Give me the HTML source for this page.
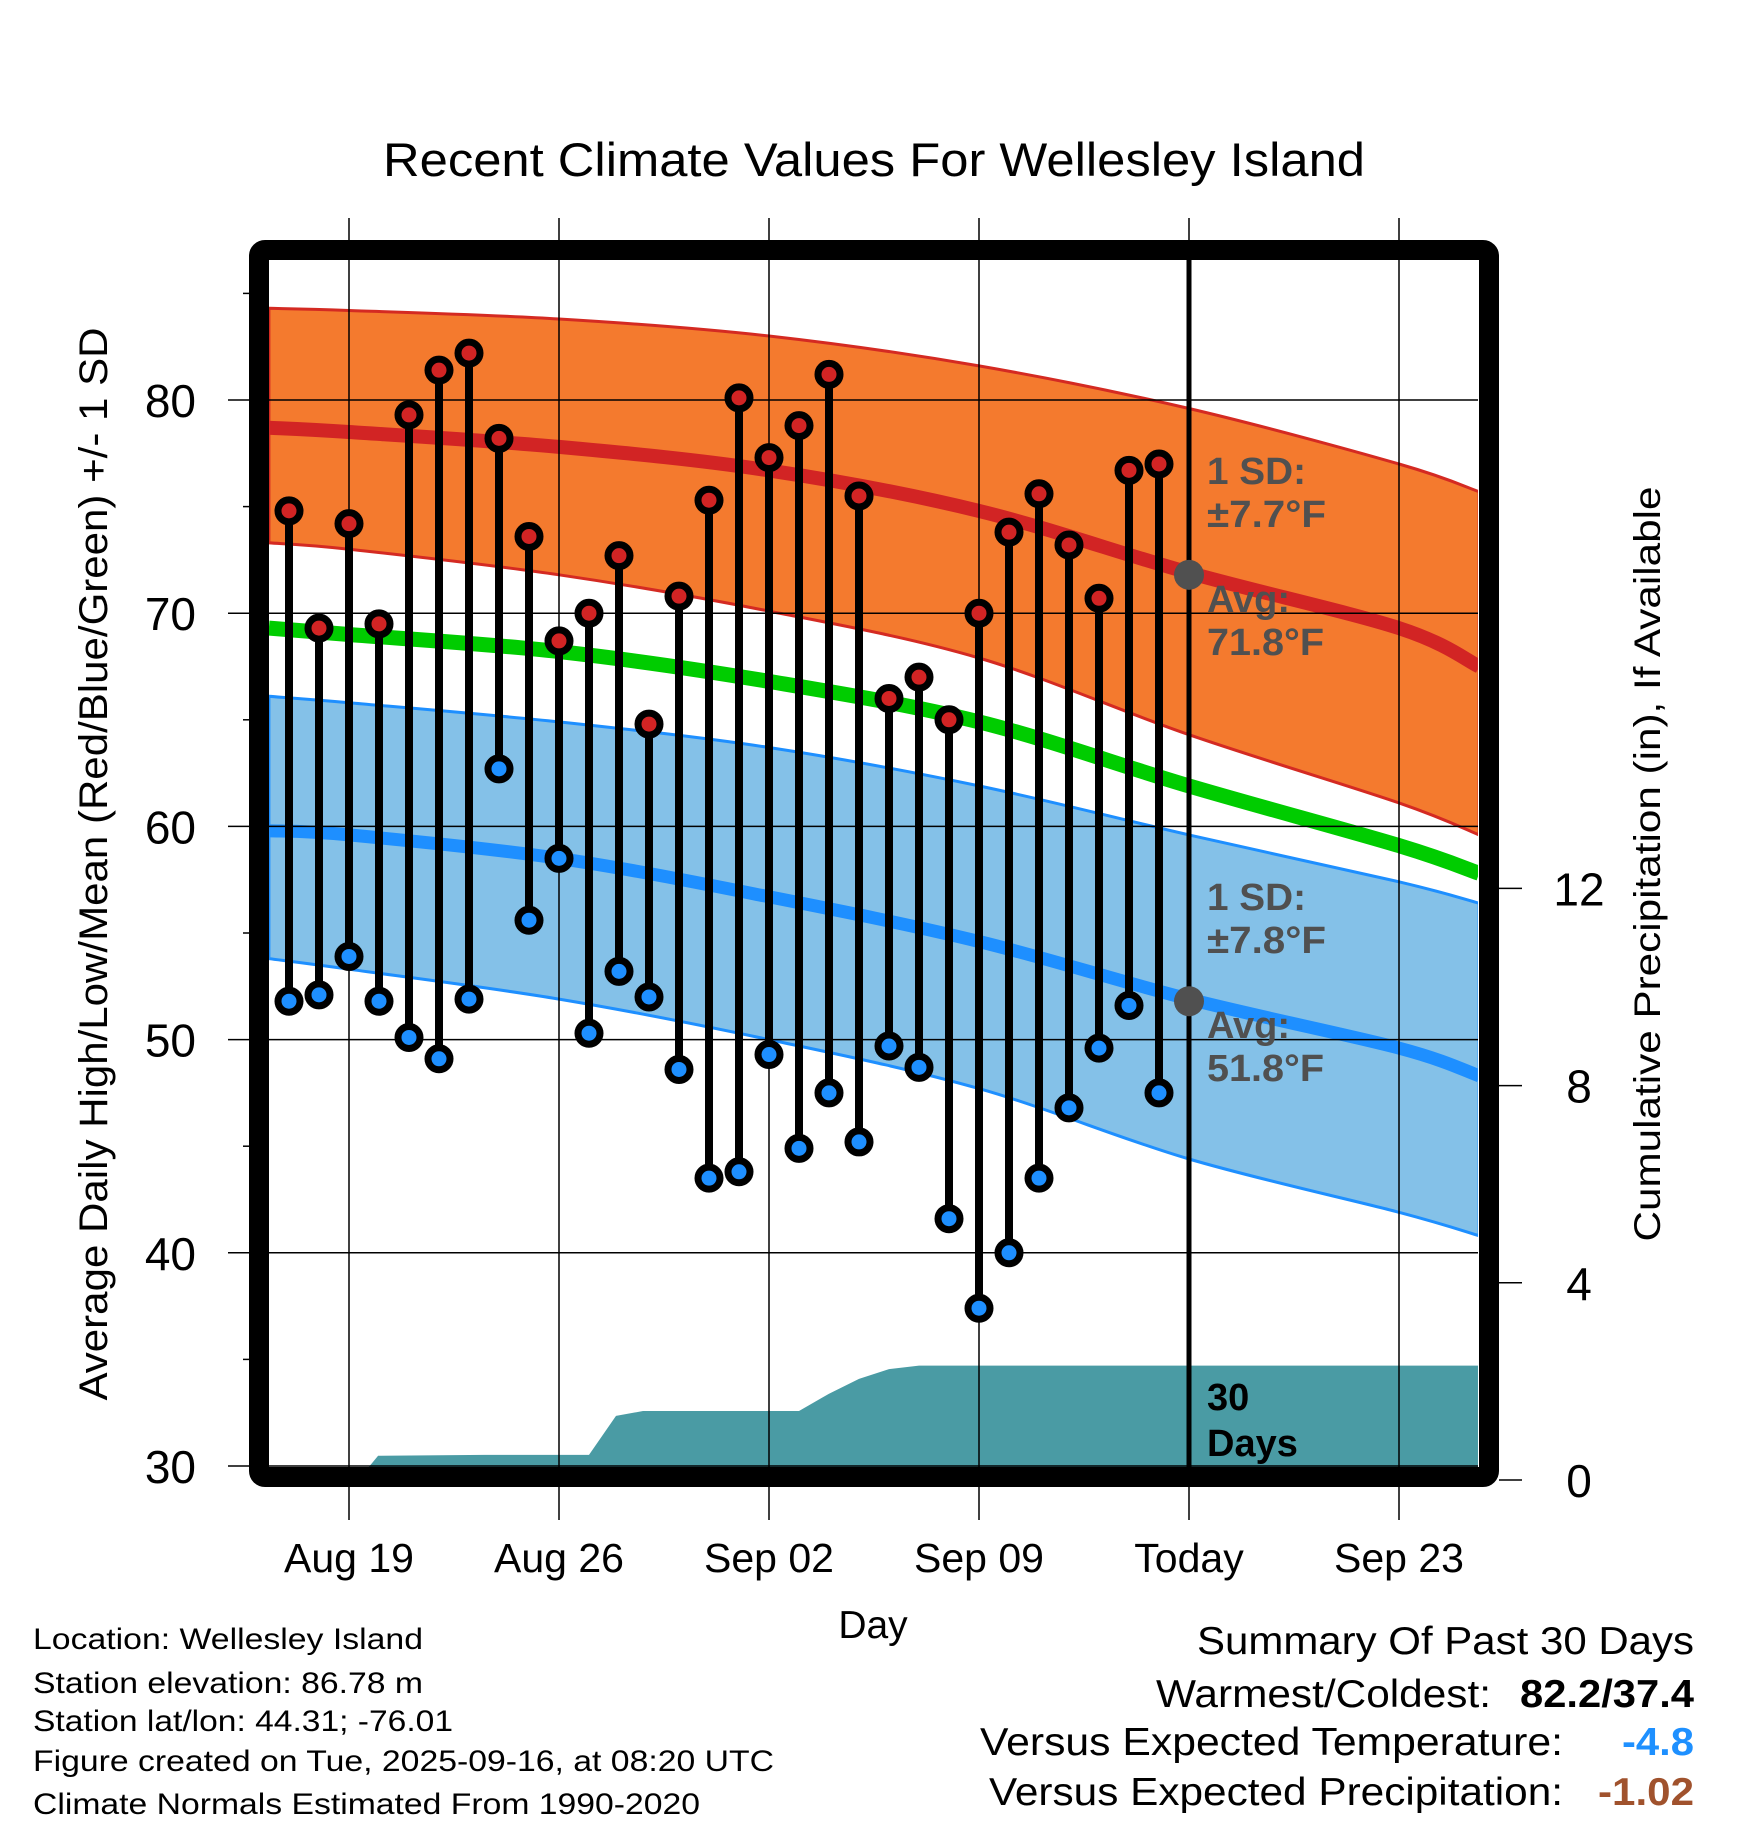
<!DOCTYPE html>
<html><head><meta charset="utf-8"><style>
html,body{margin:0;padding:0;background:#fff;}
svg{display:block;font-family:"Liberation Sans",Arial,sans-serif;}
</style></head><body>
<svg id="chart" width="1748" height="1828" viewBox="0 0 1748 1828" xmlns="http://www.w3.org/2000/svg">
<text x="874" y="176" font-size="47" text-anchor="middle" textLength="982" lengthAdjust="spacingAndGlyphs">Recent Climate Values For Wellesley Island</text>
<g id="plot"></g>
<text transform="translate(107,864) rotate(-90)" font-size="40" text-anchor="middle" textLength="1073" lengthAdjust="spacingAndGlyphs">Average Daily High/Low/Mean (Red/Blue/Green) +/- 1 SD</text>
<text transform="translate(1660,864) rotate(-90)" font-size="37" text-anchor="middle" textLength="755" lengthAdjust="spacingAndGlyphs">Cumulative Precipitation (in), If Available</text>
<text x="873" y="1638" font-size="39" text-anchor="middle">Day</text>
<g font-size="30">
<text x="33" y="1649" textLength="390" lengthAdjust="spacingAndGlyphs">Location: Wellesley Island</text>
<text x="33" y="1693" textLength="390" lengthAdjust="spacingAndGlyphs">Station elevation: 86.78 m</text>
<text x="33" y="1731" textLength="420" lengthAdjust="spacingAndGlyphs">Station lat/lon: 44.31; -76.01</text>
<text x="33" y="1771" textLength="741" lengthAdjust="spacingAndGlyphs">Figure created on Tue, 2025-09-16, at 08:20 UTC</text>
<text x="33" y="1814" textLength="667" lengthAdjust="spacingAndGlyphs">Climate Normals Estimated From 1990-2020</text>
</g>
<g font-size="39">
<text x="1197" y="1654" textLength="497" lengthAdjust="spacingAndGlyphs">Summary Of Past 30 Days</text>
<text x="1156" y="1707" textLength="335" lengthAdjust="spacingAndGlyphs">Warmest/Coldest:</text>
<text x="1520" y="1707" font-weight="bold" textLength="174" lengthAdjust="spacingAndGlyphs">82.2/37.4</text>
<text x="980" y="1755" textLength="583" lengthAdjust="spacingAndGlyphs">Versus Expected Temperature:</text>
<text x="1622" y="1755" font-weight="bold" fill="#1e90ff" textLength="72" lengthAdjust="spacingAndGlyphs">-4.8</text>
<text x="989" y="1805" textLength="574" lengthAdjust="spacingAndGlyphs">Versus Expected Precipitation:</text>
<text x="1598" y="1805" font-weight="bold" fill="#a0522d" textLength="96" lengthAdjust="spacingAndGlyphs">-1.02</text>
</g>
</svg>
<script>
// day offsets relative to Aug 19
const nodeDays = [-2.67, 0, 7, 14, 21, 28, 35, 37.67];
const normHighUpper = [84.3, 84.2, 83.8, 83.0, 81.6, 79.6, 77.0, 75.7];
const normHigh = [78.7, 78.5, 77.8, 76.7, 74.8, 71.9, 69.3, 67.5];
const normHighLower = [73.3, 73.0, 71.8, 70.1, 67.9, 64.3, 61.1, 59.6];
const normMean = [69.3, 69.0, 68.2, 66.8, 64.9, 61.9, 59.1, 57.8];
const normLowUpper = [66.1, 65.8, 64.9, 63.7, 61.9, 59.6, 57.4, 56.4];
const normLow = [59.8, 59.6, 58.5, 56.7, 54.6, 51.9, 49.6, 48.3];
const normLowLower = [53.8, 53.3, 51.9, 50.0, 47.7, 44.4, 41.9, 40.8];
// observed, Aug 17 .. Sep 15
const obsDays = [-2,-1,0,1,2,3,4,5,6,7,8,9,10,11,12,13,14,15,16,17,18,19,20,21,22,23,24,25,26,27];
const highs = [74.8,69.3,74.2,69.5,79.3,81.4,82.2,78.2,73.6,68.7,70.0,72.7,64.8,70.8,75.3,80.1,77.3,78.8,81.2,75.5,66.0,67.0,65.0,70.0,73.8,75.6,73.2,70.7,76.7,77.0];
const lows = [51.8,52.1,53.9,51.8,50.1,49.1,51.9,62.7,55.6,58.5,50.3,53.2,52.0,48.6,43.5,43.8,49.3,44.9,47.5,45.2,49.7,48.7,41.6,37.4,40.0,43.5,46.8,49.6,51.6,47.5];
const precipDays = [-2.67, 0.3, 0.97, 4.5, 7.5, 8.0, 8.9, 9.8, 14.0, 15.0, 16.0, 17.0, 18.0, 19.0, 37.67];
const precipCum = [0, 0, 0.49, 0.51, 0.51, 0.51, 1.30, 1.40, 1.40, 1.40, 1.75, 2.05, 2.25, 2.32, 2.32];
const yTicks = [30, 40, 50, 60, 70, 80];
const yMinor = [35, 45, 55, 65, 75, 85];
const pTicks = [0, 4, 8, 12];
const xTickDays = [0, 7, 14, 21, 28, 35];
const xTickLabels = ["Aug 19", "Aug 26", "Sep 02", "Sep 09", "Today", "Sep 23"];
const todayDay = 28;
const todayHigh = 71.8, todayLow = 51.8;

const X = d => 349 + 30 * d;
const Y = v => 1466 - (v - 30) * 21.32;
const P = p => 1480 - p * 49.3;
const NS = "http://www.w3.org/2000/svg";
const plot = document.getElementById('plot');
function mk(tag, attrs, parent) {
  const e = document.createElementNS(NS, tag);
  for (const k in attrs) e.setAttribute(k, attrs[k]);
  (parent || plot).appendChild(e);
  return e;
}
function pts(arr) { return nodeDays.map((d, i) => [X(d), Y(arr[i])]); }
function smooth(p, move) {
  let s = (move ? 'M' : 'L') + p[0][0].toFixed(1) + ',' + p[0][1].toFixed(1);
  for (let i = 0; i < p.length - 1; i++) {
    const p0 = p[Math.max(i - 1, 0)], p1 = p[i], p2 = p[i + 1], p3 = p[Math.min(i + 2, p.length - 1)];
    const c1 = [p1[0] + (p2[0] - p0[0]) / 6, p1[1] + (p2[1] - p0[1]) / 6];
    const c2 = [p2[0] - (p3[0] - p1[0]) / 6, p2[1] - (p3[1] - p1[1]) / 6];
    s += 'C' + c1[0].toFixed(1) + ',' + c1[1].toFixed(1) + ' ' + c2[0].toFixed(1) + ',' + c2[1].toFixed(1) + ' ' + p2[0].toFixed(1) + ',' + p2[1].toFixed(1);
  }
  return s;
}
function bandPath(up, lo) {
  return smooth(pts(up), true) + smooth(pts(lo).reverse(), false) + 'Z';
}
const defs = mk('defs', {});
const cp = mk('clipPath', {id: 'inner'}, defs);
mk('rect', {x: 269, y: 260, width: 1209, height: 1207}, cp);
const g = mk('g', {'clip-path': 'url(#inner)'});

let e;
e = mk('path', {d: bandPath(normHighUpper, normHighLower), fill: '#f47a2e', stroke: '#d42a22', 'stroke-width': 3}, g);
 
e = mk('path', {d: bandPath(normLowUpper, normLowLower), fill: '#84c1e8', stroke: '#1e8fff', 'stroke-width': 3}, g);
 
// precipitation
const pp = precipDays.map((d, i) => X(d).toFixed(1) + ',' + P(precipCum[i]).toFixed(1));
e = mk('path', {d: 'M' + X(precipDays[0]) + ',' + P(0) + 'L' + pp.join('L') + 'L' + X(precipDays[precipDays.length - 1]) + ',' + P(0) + 'Z', fill: '#4a9ba4'}, g);
 
e = mk('path', {d: smooth(pts(normHigh), true), fill: 'none', stroke: '#d22424', 'stroke-width': 14}, g);
 
e = mk('path', {d: smooth(pts(normMean), true), fill: 'none', stroke: '#00cc00', 'stroke-width': 15}, g);
 
e = mk('path', {d: smooth(pts(normLow), true), fill: 'none', stroke: '#1e8fff', 'stroke-width': 13}, g);
 

// grid
yTicks.forEach(v => {
  const l = mk('line', {x1: 228, x2: 1478, y1: Y(v), y2: Y(v), stroke: '#000', 'stroke-width': 1.5});
   
  const t = mk('text', {x: 196, y: Y(v) + 17, 'font-size': 46, 'text-anchor': 'end'});
  t.textContent = v;
   
});
yMinor.forEach(v => {
  const l = mk('line', {x1: 243, x2: 252, y1: Y(v), y2: Y(v), stroke: '#000', 'stroke-width': 1.5});
   
});
xTickDays.forEach((d, i) => {
  const l = mk('line', {x1: X(d), x2: X(d), y1: 218, y2: 1520, stroke: '#000', 'stroke-width': 1.5});
   
  const t = mk('text', {x: X(d), y: 1572, 'font-size': 41, 'text-anchor': 'middle'});
  t.textContent = xTickLabels[i];
   
});
pTicks.forEach(p => {
  const l = mk('line', {x1: 1499, x2: 1522, y1: P(p), y2: P(p), stroke: '#000', 'stroke-width': 1.5});
   
  const t = mk('text', {x: 1579, y: P(p) + 17, 'font-size': 46, 'text-anchor': 'middle'});
  t.textContent = p;
   
});
// today line
e = mk('line', {x1: X(todayDay), x2: X(todayDay), y1: 255, y2: 1470, stroke: '#000', 'stroke-width': 5});
 

// stems and points
obsDays.forEach((d, i) => {
  const s = mk('line', {x1: X(d), x2: X(d), y1: Y(highs[i]), y2: Y(lows[i]), stroke: '#000', 'stroke-width': 8});
   
});
obsDays.forEach((d, i) => {
  const h = mk('circle', {cx: X(d), cy: Y(highs[i]), r: 11, fill: '#d22424', stroke: '#000', 'stroke-width': 7});
   
  const lo = mk('circle', {cx: X(d), cy: Y(lows[i]), r: 11, fill: '#1e8fff', stroke: '#000', 'stroke-width': 7});
   
});
e = mk('circle', {cx: X(todayDay), cy: Y(todayHigh), r: 15, fill: '#505050'});
 
e = mk('circle', {cx: X(todayDay), cy: Y(todayLow), r: 15, fill: '#505050'});
 

// annotations
function ann(txt, y, name, color, len) {
  const t = mk('text', {x: 1207, y: y, 'font-size': 38, 'font-weight': 'bold', fill: color || '#505050'});
  t.textContent = txt;
  if (len) { t.setAttribute('textLength', len); t.setAttribute('lengthAdjust', 'spacingAndGlyphs'); }
   
}
ann('1 SD:', 484, 'high-sd-label', null, 99);
ann('\u00B17.7\u00B0F', 527, 'high-sd-value', null, 119);
ann('Avg:', 612, 'high-avg-label');
ann('71.8\u00B0F', 655, 'high-avg-value', null, 117);
ann('1 SD:', 910, 'low-sd-label', null, 99);
ann('\u00B17.8\u00B0F', 953, 'low-sd-value', null, 119);
ann('Avg:', 1038, 'low-avg-label');
ann('51.8\u00B0F', 1081, 'low-avg-value', null, 117);
ann('30', 1410, 'precip-days-label', '#000');
ann('Days', 1456, 'precip-days-label-2', '#000');

// frame
e = mk('rect', {x: 259, y: 250, width: 1230, height: 1227, rx: 6, fill: 'none', stroke: '#000', 'stroke-width': 20});
 
</script>
</body></html>
